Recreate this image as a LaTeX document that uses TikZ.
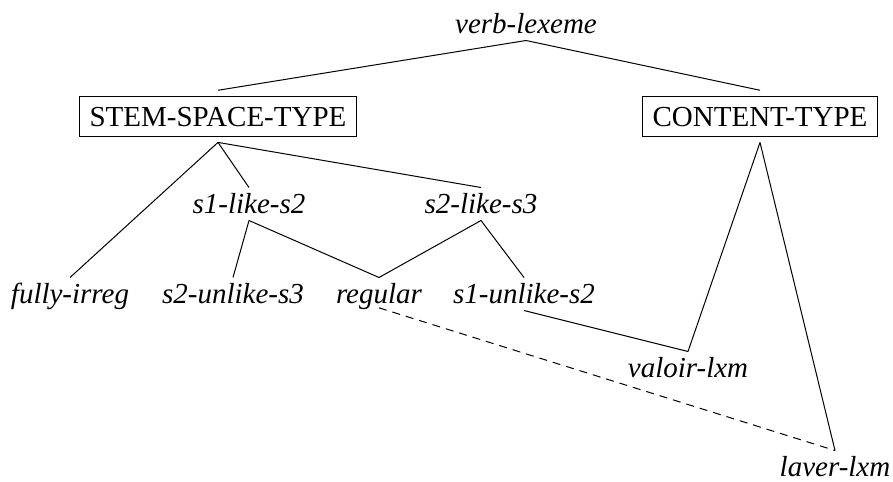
\documentclass[tikz,border=0pt]{standalone}
\usepackage{fontspec}
\setmainfont{Liberation Serif}
\usepackage{tikz}

\tikzset{
  typebox/.style={draw, line width=1.1pt, inner xsep=7.5pt, inner ysep=7.8pt, text height=14.5pt, text depth=0pt, outer sep=4.5pt},
  typelbl/.style={inner sep=0pt, text height=18.75pt, text depth=5.25pt, font=\fontsize{21.75}{26}\selectfont\itshape},
}

\begin{document}
\begin{tikzpicture}[x=0.75pt,y=0.75pt,yscale=-1,xscale=1,line width=0.75pt,
  every node/.style={font=\fontsize{21.75}{26}\selectfont}]
\useasboundingbox (0,0) rectangle (893,482);

% Text Node
\node [typelbl, anchor=base] (vlex) at (526,33) {verb-lexeme};
% Box Nodes
\node [typebox, anchor=base] (sst) at (218,126) {STEM-SPACE-TYPE};
\node [typebox, anchor=base] (cnt) at (760,126) {CONTENT-TYPE};
% Text Nodes
\node [typelbl, anchor=base] (s1ls2) at (249,213) {s1-like-s2};
\node [typelbl, anchor=base] (s2ls3) at (481,213) {s2-like-s3};
\node [typelbl, anchor=base] (firr) at (70,303) {fully-irreg};
\node [typelbl, anchor=base] (s2us3) at (233,303) {s2-unlike-s3};
\node [typelbl, anchor=base] (reg) at (379,303) {regular};
\node [typelbl, anchor=base] (s1us2) at (524,303) {s1-unlike-s2};
\node [typelbl, anchor=base] (val) at (688,377) {valoir-lxm};
\node [typelbl, anchor=base] (lav) at (835,476) {laver-lxm};

%Straight Lines
\draw (vlex.south) -- (sst.north);
\draw (vlex.south) -- (cnt.north);
\draw (sst.south) -- (firr.north);
\draw (sst.south) -- (s1ls2.north);
\draw (sst.south) -- (s2ls3.north);
\draw (s1ls2.south) -- (s2us3.north);
\draw (s1ls2.south) -- (reg.north);
\draw (s2ls3.south) -- (reg.north);
\draw (s2ls3.south) -- (s1us2.north);
\draw (s1us2.south) -- (val.north);
\draw (cnt.south) -- (val.north);
\draw (cnt.south) -- (lav.north);
%Dashed Line
\draw [dash pattern=on 6pt off 4.5pt] ([yshift=-2pt]reg.south) -- (lav.north);

\end{tikzpicture}
\end{document}
